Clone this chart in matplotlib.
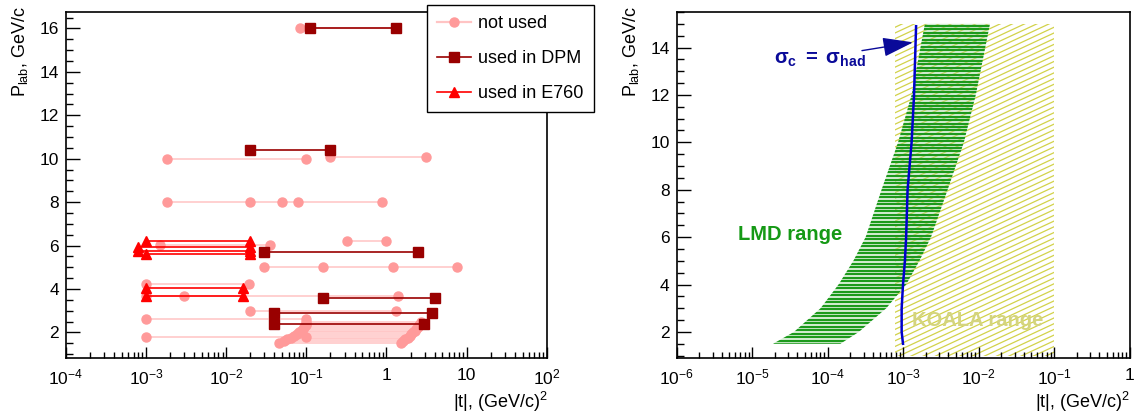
import numpy as np
import matplotlib
matplotlib.use("Agg")
import matplotlib.pyplot as plt
from matplotlib.patches import Polygon, Rectangle
from matplotlib.collections import LineCollection
from matplotlib.ticker import FixedLocator, MultipleLocator, LogLocator, NullFormatter

plt.rcParams["font.family"] = ["Liberation Sans", "DejaVu Sans"]
plt.rcParams["mathtext.fontset"] = "custom"
plt.rcParams["mathtext.rm"] = "Liberation Sans"
plt.rcParams["mathtext.it"] = "Liberation Sans:italic"
plt.rcParams["mathtext.bf"] = "Liberation Sans:bold"
plt.rcParams["mathtext.sf"] = "Liberation Sans"

# ---- left panel data: rows of measured |t| ranges at fixed P_lab ----
notused_p = [16.0, 10.0, 10.1, 8.0, 6.2, 6.02, 5.0, 4.22, 3.66, 3.0, 2.6, 1.8,
             1.52, 1.60, 1.68, 1.76, 1.84, 1.92, 2.00, 2.08, 2.16, 2.24, 2.32, 2.40, 2.48]
notused_t = [[0.084, 1.3], [0.0018, 0.1], [0.2, 3.1], [0.0018, 0.02, 0.05, 0.079, 0.87],
             [0.32, 1.0], [0.0015, 0.035], [0.03, 0.16, 1.2, 7.7], [0.001, 0.019],
             [0.001, 0.003, 1.4], [0.02, 1.3], [0.001, 0.1], [0.001, 0.1],
             [0.046, 1.5], [0.052, 1.6], [0.058, 1.72], [0.064, 1.85], [0.070, 1.95],
             [0.076, 2.05], [0.080, 2.15], [0.085, 2.25], [0.090, 2.35], [0.094, 2.45],
             [0.098, 2.55], [0.100, 2.62], [0.100, 2.7]]

dpm_p = [16.0, 10.4, 5.72, 3.57, 2.88, 2.37]
dpm_t = [[0.11, 1.3], [0.02, 0.2], [0.03, 2.5], [0.16, 4.0], [0.04, 3.7], [0.04, 2.9]]

e760_p = [6.2, 5.95, 5.75, 5.6, 4.05, 3.68]
e760_t = [[0.001, 0.02], [0.0008, 0.02], [0.0008, 0.02], [0.001, 0.02],
          [0.001, 0.016], [0.001, 0.016]]

left_xticks = [1e-4, 1e-3, 1e-2, 1e-1, 1, 10, 100]
left_xlabels = [r"$10^{-4}$", r"$10^{-3}$", r"$10^{-2}$", r"$10^{-1}$", "1", "10", r"$10^{2}$"]

# ---- right panel data ----
lmd_p = [1.5, 2, 3, 4, 5, 6, 8, 10, 12, 15]
lmd_tmin = [1.9e-5, 3.6e-5, 8.1e-5, 1.4e-4, 2.2e-4, 3.2e-4, 5.2e-4, 8.6e-4, 1.3e-3, 1.95e-3]
lmd_tmax = [1.48e-4, 2.6e-4, 6.0e-4, 1.1e-3, 1.65e-3, 2.35e-3, 3.9e-3, 6.4e-3, 9.2e-3, 1.42e-2]

koala_t = [7.8e-4, 0.1]
koala_p = [1.0, 15.0]

had_p = [1.5, 2, 3, 4, 5, 6, 8, 10, 12, 14.9]
had_t = [1.0e-3, 9.6e-4, 9.6e-4, 1.0e-3, 1.06e-3, 1.1e-3, 1.15e-3, 1.3e-3, 1.4e-3, 1.49e-3]

right_xticks = [1e-6, 1e-5, 1e-4, 1e-3, 1e-2, 1e-1, 1]
right_xlabels = [r"$10^{-6}$", r"$10^{-5}$", r"$10^{-4}$", r"$10^{-3}$", r"$10^{-2}$", r"$10^{-1}$", "1"]

W, H = 1143, 416
fig = plt.figure(figsize=(W / 100, H / 100), dpi=100)
axl = fig.add_axes([66 / W, 1 - 358 / H, 480.7 / W, 346 / H])
axr = fig.add_axes([676.5 / W, 1 - 358 / H, 453 / W, 346 / H])

c_nu, c_nu_line = "#ff9a9a", "#ffc4c4"
c_dpm = "#990000"
c_e760 = "#ff0000"

for p, ts in zip(notused_p, notused_t):
    axl.plot(ts, [p] * len(ts), color=c_nu_line, lw=1.1, zorder=2)
    axl.plot(ts, [p] * len(ts), ls="none", marker="o", ms=6.5, mfc=c_nu, mec=c_nu, zorder=3)
for p, ts in zip(dpm_p, dpm_t):
    axl.plot(ts, [p] * len(ts), color=c_dpm, lw=1.2, marker="s", ms=6.5, zorder=4)
for p, ts in zip(e760_p, e760_t):
    axl.plot(ts, [p] * len(ts), color=c_e760, lw=1.2, marker="^", ms=6.5, zorder=5)

h_nu, = axl.plot([], [], color=c_nu_line, lw=1.6, marker="o", ms=6.5, mfc=c_nu, mec=c_nu)
h_dpm, = axl.plot([], [], color=c_dpm, lw=1.2, marker="s", ms=6.5)
h_e760, = axl.plot([], [], color=c_e760, lw=1.2, marker="^", ms=6.5)
leg = axl.legend([h_nu, h_dpm, h_e760], ["not used", "used in DPM", "used in E760"],
                 loc="upper left", bbox_to_anchor=(427 / W, 1 - 5 / H),
                 bbox_transform=fig.transFigure, fancybox=False, framealpha=1,
                 edgecolor="black", fontsize=13, handlelength=1.9, labelspacing=1.0,
                 borderpad=0.55, handletextpad=0.4, borderaxespad=0)
leg.get_frame().set_linewidth(1.0)
leg.set_zorder(10)

axl.set_xscale("log")
axl.set_xlim(1e-4, 100)
axl.set_ylim(0.82, 16.76)

# ---- right panel ----
axr.set_xscale("log")
axr.set_xlim(1e-6, 1)
axr.set_ylim(0.9, 15.5)

# KOALA hatched rectangle (shallow diagonal lines clipped to the region)
krect = Rectangle((koala_t[0], koala_p[0]), koala_t[1] - koala_t[0], koala_p[1] - koala_p[0],
                  transform=axr.transData, facecolor="none", edgecolor="none")
axr.add_patch(krect)
slope = 0.466 * 453 / 346
offs = np.arange(-1.2, 1.05, 5.7 / 346)
hatch = LineCollection([[(0, o), (1, o + slope)] for o in offs], colors="#d2d24a",
                       linewidths=0.9, transform=axr.transAxes, zorder=1)
axr.add_collection(hatch)
hatch.set_clip_path(krect)

# LMD band drawn as horizontal bars clipped to its boundaries
band = Polygon(list(zip(lmd_tmin, lmd_p)) + list(zip(lmd_tmax[::-1], lmd_p[::-1])),
               closed=True, transform=axr.transData, facecolor="#b8e0b0", alpha=0.35,
               edgecolor="none", zorder=2)
axr.add_patch(band)
ys = np.arange(0, 1, 3.5 / 346)
bars = LineCollection([[(0, y), (1, y)] for y in ys], colors="#1c9a1c", linewidths=1.6,
                      transform=axr.transAxes, zorder=3)
axr.add_collection(bars)
bars.set_clip_path(band)

axr.plot(had_t, had_p, color="#0000cc", lw=1.8, zorder=4)
axr.annotate("", xy=(1.36e-3, 14.22), xytext=(2.86e-4, 13.87),
             arrowprops=dict(arrowstyle="-|>,head_length=0.95,head_width=0.3",
                             color="#0a0a99", lw=1.0, mutation_scale=20, shrinkA=0, shrinkB=0))
axr.text(8.0e-5, 13.5, r"$\mathbf{\sigma_c}$ $\mathbf{=}$ $\mathbf{\sigma_{had}}$",
         color="#0a0a99", fontsize=14.5, ha="center", va="center")
axr.text(3.2e-5, 6.13, "LMD range", color="#159915", fontsize=14.5, fontweight="bold",
         ha="center", va="center", zorder=6)
axr.text(9.8e-3, 2.5, "KOALA range", color="#d4d47e", fontsize=14.5, fontweight="bold",
         ha="center", va="center", zorder=6)

for ax, ticks, labels in [(axl, left_xticks, left_xlabels), (axr, right_xticks, right_xlabels)]:
    ax.xaxis.set_major_locator(FixedLocator(ticks))
    ax.set_xticklabels(labels)
    ax.xaxis.set_minor_locator(LogLocator(base=10, subs=np.arange(2, 10), numticks=20))
    ax.xaxis.set_minor_formatter(NullFormatter())
    ax.yaxis.set_major_locator(MultipleLocator(2))
    ax.yaxis.set_minor_locator(MultipleLocator(0.5))
    ax.tick_params(axis="both", which="both", direction="in", labelsize=12.5, colors="black")
    ax.tick_params(axis="y", which="major", length=10, width=1, pad=5)
    ax.tick_params(axis="y", which="minor", length=5, width=1)
    ax.tick_params(axis="x", which="major", length=8, width=1, pad=7)
    ax.tick_params(axis="x", which="minor", length=4, width=1)
    for s in ax.spines.values():
        s.set_linewidth(1.2)

# axis titles
fig.text(20 / W, 1 - 6 / H, r"$\mathrm{P_{lab}}$, GeV/c", rotation=90, ha="center", va="top", fontsize=13)
fig.text(631 / W, 1 - 6 / H, r"$\mathrm{P_{lab}}$, GeV/c", rotation=90, ha="center", va="top", fontsize=13)
fig.text(548 / W, 1 - 402 / H, r"|t|, (GeV/c)$^{2}$", ha="right", va="center", fontsize=13)
fig.text(1130 / W, 1 - 402 / H, r"|t|, (GeV/c)$^{2}$", ha="right", va="center", fontsize=13)

fig.savefig("out.png", dpi=100, facecolor="white")
